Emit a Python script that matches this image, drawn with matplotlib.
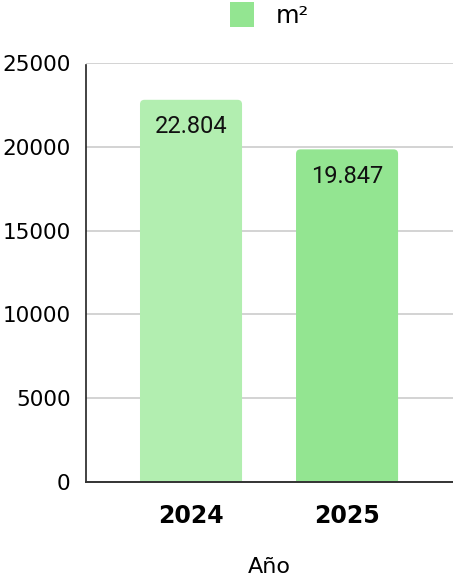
import matplotlib.pyplot as plt
from matplotlib.patches import FancyBboxPatch, Patch

years = ['2024', '2025']
areas = [22804, 19847]
value_labels = ['22.804', '19.847']
bar_colors = ['#b2eeb0', '#93e591']

fig = plt.figure(figsize=(4.53, 5.80), dpi=100)
ax = fig.add_axes([86 / 453, 98 / 580, 367 / 453, 419 / 580])

x = list(range(len(years)))
width = 0.654
ax.set_xlim(-0.673, 1.679)
ax.set_ylim(0, 25000)

# rounded top corners: convert a pixel radius into data units on both axes
px_per_x = 367 / (1.679 + 0.673)
px_per_y = 419 / 25000
r_px = 4.5
rx = r_px / px_per_x
ry = r_px / px_per_y
for xi, val, col, lab in zip(x, areas, bar_colors, value_labels):
    patch = FancyBboxPatch((xi - width / 2, -600), width, val + 600,
                           boxstyle=f"round,pad=0,rounding_size={rx}",
                           mutation_aspect=ry / rx,
                           facecolor=col, edgecolor='none', zorder=2)
    ax.add_patch(patch)
    ax.annotate(lab, (xi, val), xytext=(0, -11), textcoords='offset points',
                ha='center', va='top', fontsize=17, family='Roboto',
                color='#111111', zorder=3)

ax.set_yticks([0, 5000, 10000, 15000, 20000, 25000])
ax.set_yticklabels(['0', '5000', '10000', '15000', '20000', '25000'])
ax.set_xticks(x)
ax.set_xticklabels(years, fontweight='bold')
ax.tick_params(axis='y', length=0, pad=11, labelsize=15.5)
ax.tick_params(axis='x', length=0, pad=16, labelsize=17)
ax.grid(axis='y', color='#cccccc', linewidth=1.2, zorder=0)
ax.set_axisbelow(True)
for s in ['top', 'right']:
    ax.spines[s].set_visible(False)
ax.spines['left'].set_color('#222222')
ax.spines['bottom'].set_color('#333333')
ax.spines['left'].set_linewidth(1.2)
ax.spines['bottom'].set_linewidth(1.4)
ax.spines['left'].set_bounds(0, 24900)

ax.set_xlabel('Año', fontsize=16, labelpad=21)

handles = [Patch(facecolor='#93e591', edgecolor='none', label='m²')]
fig.legend(handles=handles, loc='upper center', bbox_to_anchor=(0.595, 1.035),
           frameon=False, fontsize=17.5, handlelength=1.0, handleheight=1.25,
           handletextpad=0.9)

fig.savefig('out.png', dpi=100)
